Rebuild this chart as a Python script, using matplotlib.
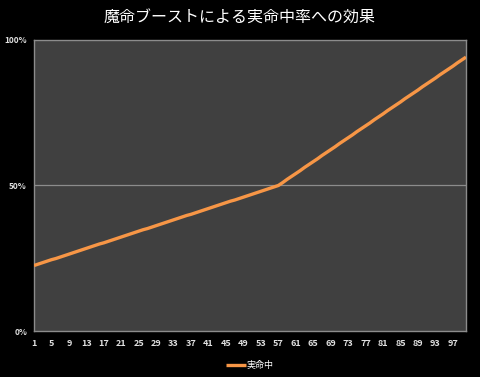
import matplotlib
matplotlib.use("Agg")
import matplotlib.pyplot as plt
from matplotlib.ticker import FuncFormatter

plt.rcParams["font.family"] = ["Noto Sans CJK JP", "DejaVu Sans"]

TITLE = "魔命ブーストによる実命中率への効果"
SERIES_NAME = "実命中"

# boost level (category axis) and hit rate in percent
levels = list(range(1, 101))
hit_rate = [
    22.5, 23.0, 23.5, 24.0, 24.5, 24.9, 25.4, 25.9, 26.4, 26.9,
    27.4, 27.9, 28.4, 28.9, 29.4, 29.9, 30.3, 30.8, 31.3, 31.8,
    32.3, 32.8, 33.3, 33.8, 34.3, 34.8, 35.2, 35.7, 36.2, 36.7,
    37.2, 37.7, 38.2, 38.7, 39.2, 39.7, 40.1, 40.6, 41.1, 41.6,
    42.1, 42.6, 43.1, 43.6, 44.1, 44.6, 45.0, 45.5, 46.0, 46.5,
    47.0, 47.5, 48.0, 48.5, 49.0, 49.5, 50.0, 51.0, 52.1, 53.1,
    54.1, 55.1, 56.2, 57.2, 58.2, 59.2, 60.3, 61.3, 62.3, 63.3,
    64.4, 65.4, 66.4, 67.4, 68.5, 69.5, 70.5, 71.5, 72.6, 73.6,
    74.6, 75.7, 76.7, 77.7, 78.7, 79.8, 80.8, 81.8, 82.8, 83.9,
    84.9, 85.9, 86.9, 88.0, 89.0, 90.0, 91.0, 92.1, 93.1, 94.1,
]
x_ticks = list(range(1, 100, 4))
y_ticks = [0, 50, 100]

fig = plt.figure(figsize=(4.8, 3.77), dpi=100, facecolor="black")
ax = fig.add_axes([0.0708, 0.122, 0.9, 0.772], facecolor="#404040")

ax.axhline(50, color="#8c8c8c", linewidth=0.9, zorder=1)
ax.plot(levels, hit_rate, color="#F79646", linewidth=2.4,
        solid_capstyle="butt", label=SERIES_NAME, zorder=3)

ax.set_xlim(1, 100)
ax.set_ylim(0, 100)
ax.set_xticks(x_ticks)
ax.set_yticks(y_ticks)
ax.yaxis.set_major_formatter(FuncFormatter(lambda v, _: f"{v:.0f}%"))
ax.tick_params(length=0, labelsize=6.5, colors="#e0e0e0")
ax.tick_params(axis="x", pad=6)
ax.tick_params(axis="y", pad=5, labelsize=6)
for lab in ax.get_xticklabels() + ax.get_yticklabels():
    lab.set_fontweight("bold")
for spine in ax.spines.values():
    spine.set_color("#8c8c8c")
    spine.set_linewidth(1.0)

fig.text(0.5, 0.952, TITLE, ha="center", va="center",
         color="white", fontsize=11.5)

leg = ax.legend(loc="upper center", bbox_to_anchor=(0.5, -0.075),
                frameon=False, fontsize=6.5, handlelength=2.2,
                handletextpad=0.1, labelcolor="white")

fig.savefig("out.png", dpi=100, facecolor="black")
